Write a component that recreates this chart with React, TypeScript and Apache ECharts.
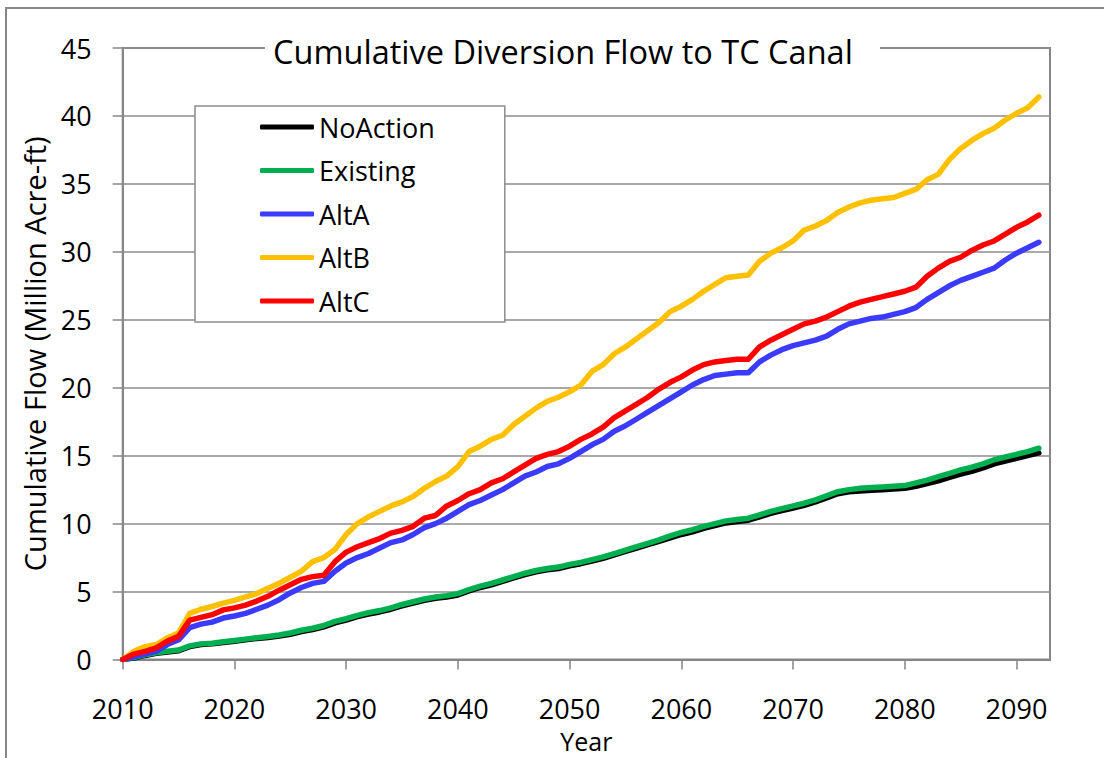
import React, { useEffect, useRef } from "react";
import * as echarts from "echarts";

const FONT = "'Open Sans', 'Noto Sans', sans-serif";

const years = [
  2010, 2011, 2012, 2013, 2014, 2015, 2016, 2017, 2018, 2019,
  2020, 2021, 2022, 2023, 2024, 2025, 2026, 2027, 2028, 2029,
  2030, 2031, 2032, 2033, 2034, 2035, 2036, 2037, 2038, 2039,
  2040, 2041, 2042, 2043, 2044, 2045, 2046, 2047, 2048, 2049,
  2050, 2051, 2052, 2053, 2054, 2055, 2056, 2057, 2058, 2059,
  2060, 2061, 2062, 2063, 2064, 2065, 2066, 2067, 2068, 2069,
  2070, 2071, 2072, 2073, 2074, 2075, 2076, 2077, 2078, 2079,
  2080, 2081, 2082, 2083, 2084, 2085, 2086, 2087, 2088, 2089,
  2090, 2091, 2092,
];

const noAction = [
  0, 0.1, 0.3, 0.45, 0.55, 0.65, 0.95, 1.1, 1.15, 1.25,
  1.35, 1.45, 1.55, 1.62, 1.72, 1.85, 2.05, 2.2, 2.4, 2.7,
  2.9, 3.15, 3.35, 3.5, 3.7, 3.95, 4.15, 4.35, 4.5, 4.6,
  4.75, 5.05, 5.3, 5.5, 5.75, 6.0, 6.25, 6.45, 6.6, 6.7,
  6.9, 7.05, 7.25, 7.45, 7.7, 7.95, 8.2, 8.45, 8.7, 8.95,
  9.2, 9.4, 9.65, 9.85, 10.05, 10.15, 10.25, 10.5, 10.75, 10.95,
  11.15, 11.35, 11.6, 11.9, 12.2, 12.35, 12.4, 12.45, 12.5, 12.55,
  12.6, 12.75, 12.95, 13.15, 13.4, 13.65, 13.85, 14.1, 14.4, 14.6,
  14.8, 15.0, 15.2,
];

const existing = [
  0, 0.15, 0.35, 0.5, 0.6, 0.7, 1.0, 1.15, 1.2, 1.3,
  1.4, 1.5, 1.6, 1.7, 1.8, 1.95, 2.15, 2.3, 2.5, 2.8,
  3.0, 3.25, 3.45, 3.6, 3.8, 4.05, 4.25, 4.45, 4.6, 4.7,
  4.85, 5.15, 5.4, 5.6, 5.85, 6.1, 6.35, 6.55, 6.7, 6.8,
  7.0, 7.15, 7.35, 7.55, 7.8, 8.05, 8.3, 8.55, 8.8, 9.1,
  9.35, 9.55, 9.8, 10.0, 10.2, 10.3, 10.4, 10.65, 10.9, 11.1,
  11.3, 11.5, 11.75, 12.05, 12.35, 12.5, 12.6, 12.65, 12.7, 12.75,
  12.8, 13.0, 13.2, 13.45, 13.7, 13.95, 14.15, 14.4, 14.7, 14.9,
  15.1, 15.3, 15.55,
];

const altA = [
  0, 0.2, 0.4, 0.6, 1.1, 1.45, 2.35, 2.6, 2.75, 3.05,
  3.2, 3.4, 3.7, 4.0, 4.4, 4.9, 5.3, 5.6, 5.75, 6.5,
  7.1, 7.5, 7.8, 8.2, 8.6, 8.8, 9.2, 9.7, 10.0, 10.4,
  10.9, 11.4, 11.7, 12.1, 12.5, 13.0, 13.5, 13.8, 14.2, 14.4,
  14.8, 15.3, 15.8, 16.2, 16.8, 17.2, 17.7, 18.2, 18.7, 19.2,
  19.7, 20.2, 20.6, 20.9, 21.0, 21.1, 21.1, 21.9, 22.4, 22.8,
  23.1, 23.3, 23.5, 23.8, 24.3, 24.7, 24.9, 25.1, 25.2, 25.4,
  25.6, 25.9, 26.5, 27.0, 27.5, 27.9, 28.2, 28.5, 28.8, 29.4,
  29.9, 30.3, 30.7,
];

const altB = [
  0, 0.6, 0.95, 1.1, 1.6, 1.95, 3.4, 3.7, 3.9, 4.15,
  4.35, 4.6, 4.85, 5.25, 5.6, 6.05, 6.5, 7.2, 7.5, 8.1,
  9.2, 10.0, 10.5, 10.9, 11.3, 11.6, 12.0, 12.6, 13.1, 13.5,
  14.2, 15.3, 15.7, 16.2, 16.5, 17.3, 17.9, 18.5, 19.0, 19.3,
  19.7, 20.2, 21.2, 21.7, 22.5, 23.0, 23.6, 24.2, 24.8, 25.6,
  26.0, 26.5, 27.1, 27.6, 28.1, 28.2, 28.3, 29.3, 29.9, 30.3,
  30.8, 31.6, 31.9, 32.3, 32.9, 33.3, 33.6, 33.8, 33.9, 34.0,
  34.3, 34.6, 35.3, 35.7, 36.8, 37.6, 38.2, 38.7, 39.1, 39.7,
  40.2, 40.6, 41.4,
];

const altC = [
  0, 0.4, 0.6, 0.85, 1.35, 1.7, 2.9, 3.1, 3.3, 3.65,
  3.8, 4.0, 4.3, 4.65, 5.1, 5.5, 5.9, 6.1, 6.2, 7.2,
  7.9, 8.3, 8.6, 8.9, 9.3, 9.5, 9.8, 10.4, 10.6, 11.3,
  11.7, 12.2, 12.5, 13.0, 13.3, 13.8, 14.3, 14.8, 15.1, 15.3,
  15.7, 16.2, 16.6, 17.1, 17.8, 18.3, 18.8, 19.3, 19.9, 20.4,
  20.8, 21.3, 21.7, 21.9, 22.0, 22.1, 22.1, 23.0, 23.5, 23.9,
  24.3, 24.7, 24.9, 25.2, 25.6, 26.0, 26.3, 26.5, 26.7, 26.9,
  27.1, 27.4, 28.2, 28.8, 29.3, 29.6, 30.1, 30.5, 30.8, 31.3,
  31.8, 32.2, 32.7,
];

const xTickValues = [2010, 2020, 2030, 2040, 2050, 2060, 2070, 2080, 2090];
const seriesNames = ["NoAction", "Existing", "AltA", "AltB", "AltC"];
const seriesColors = ["#000000", "#00B050", "#3B3BFF", "#FFC000", "#FF0000"];
const titleText = "Cumulative Diversion Flow to TC Canal";
const yAxisTitle = "Cumulative Flow (Million Acre-ft)";
const xAxisTitle = "Year";

const AXIS_GRAY = "#868686";

export default function App() {
  const ref = useRef<HTMLDivElement>(null);

  useEffect(() => {
    document.body.style.margin = "0";
    const chart = echarts.init(ref.current as HTMLDivElement, null, { renderer: "svg" });
    const values = [noAction, existing, altA, altB, altC];

    chart.setOption({
      animation: false,
      backgroundColor: "#ffffff",
      textStyle: { fontFamily: FONT },
      grid: {
        left: 122.7,
        right: 54,
        top: 48,
        bottom: 97,
        show: true,
        borderColor: AXIS_GRAY,
        borderWidth: 2,
        backgroundColor: "transparent",
      },
      xAxis: {
        type: "value",
        min: 2010,
        max: 2093,
        interval: 10,
        name: xAxisTitle,
        nameLocation: "middle",
        nameGap: 70,
        nameTextStyle: { fontSize: 25, lineHeight: 22, color: "#000", fontFamily: FONT },
        axisLine: { show: true, onZero: false, lineStyle: { color: AXIS_GRAY, width: 2 } },
        axisTick: {
          show: true,
          inside: false,
          length: 10,
          customValues: xTickValues,
          lineStyle: { color: AXIS_GRAY, width: 1.5 },
        },
        axisLabel: {
          customValues: xTickValues,
          formatter: (v: number) => String(v),
          margin: 37,
          fontSize: 27,
          lineHeight: 24,
          color: "#000",
          fontFamily: FONT,
        },
        splitLine: { show: false },
      },
      yAxis: {
        type: "value",
        min: 0,
        max: 45,
        interval: 5,
        name: yAxisTitle,
        nameLocation: "middle",
        nameRotate: 90,
        nameGap: 74,
        nameTextStyle: { fontSize: 29, color: "#000", fontFamily: FONT },
        axisLine: { show: true, lineStyle: { color: AXIS_GRAY, width: 2 } },
        axisTick: { show: true, inside: false, length: 10, lineStyle: { color: AXIS_GRAY, width: 1.5 } },
        axisLabel: { margin: 31, fontSize: 27, color: "#000", fontFamily: FONT },
        splitLine: { show: true, lineStyle: { color: "#8c8c8c", width: 1.5 } },
      },
      legend: {
        orient: "vertical",
        left: 195,
        top: 106,
        padding: [6, 70, 6, 65],
        itemGap: 13.5,
        itemWidth: 54,
        itemHeight: 5,
        icon: "roundRect",
        backgroundColor: "#ffffff",
        borderColor: "#8c8c8c",
        borderWidth: 1.5,
        borderRadius: 0,
        textStyle: { fontSize: 27, color: "#000", lineHeight: 30, fontFamily: FONT },
        data: seriesNames,
      },
      graphic: [
        {
          type: "rect",
          silent: true,
          z: 200,
          shape: { x: 6, y: 8, width: 1200, height: 800 },
          style: { fill: "none", stroke: "#878787", lineWidth: 2 },
        },
        {
          type: "rect",
          silent: true,
          z: 100,
          shape: { x: 265, y: 30, width: 615, height: 36 },
          style: { fill: "#ffffff" },
        },
        {
          type: "text",
          silent: true,
          z: 101,
          x: 273,
          y: 51,
          style: {
            text: titleText,
            fontSize: 32.5,
            fontFamily: FONT,
            fill: "#000",
            align: "left",
            verticalAlign: "middle",
          },
        },
      ],
      series: seriesNames.map((name, i) => ({
        type: "line",
        name,
        data: years.map((y, j) => [y, values[i][j]]),
        symbol: "none",
        showSymbol: false,
        z: 2 + i,
        lineStyle: { width: 5.5, color: seriesColors[i], cap: "round", join: "round" },
        itemStyle: { color: seriesColors[i] },
      })),
    });

    return () => chart.dispose();
  }, []);

  return (
    <div
      ref={ref}
      style={{ position: "fixed", left: 0, top: 0, width: 1104, height: 758 }}
    />
  );
}
